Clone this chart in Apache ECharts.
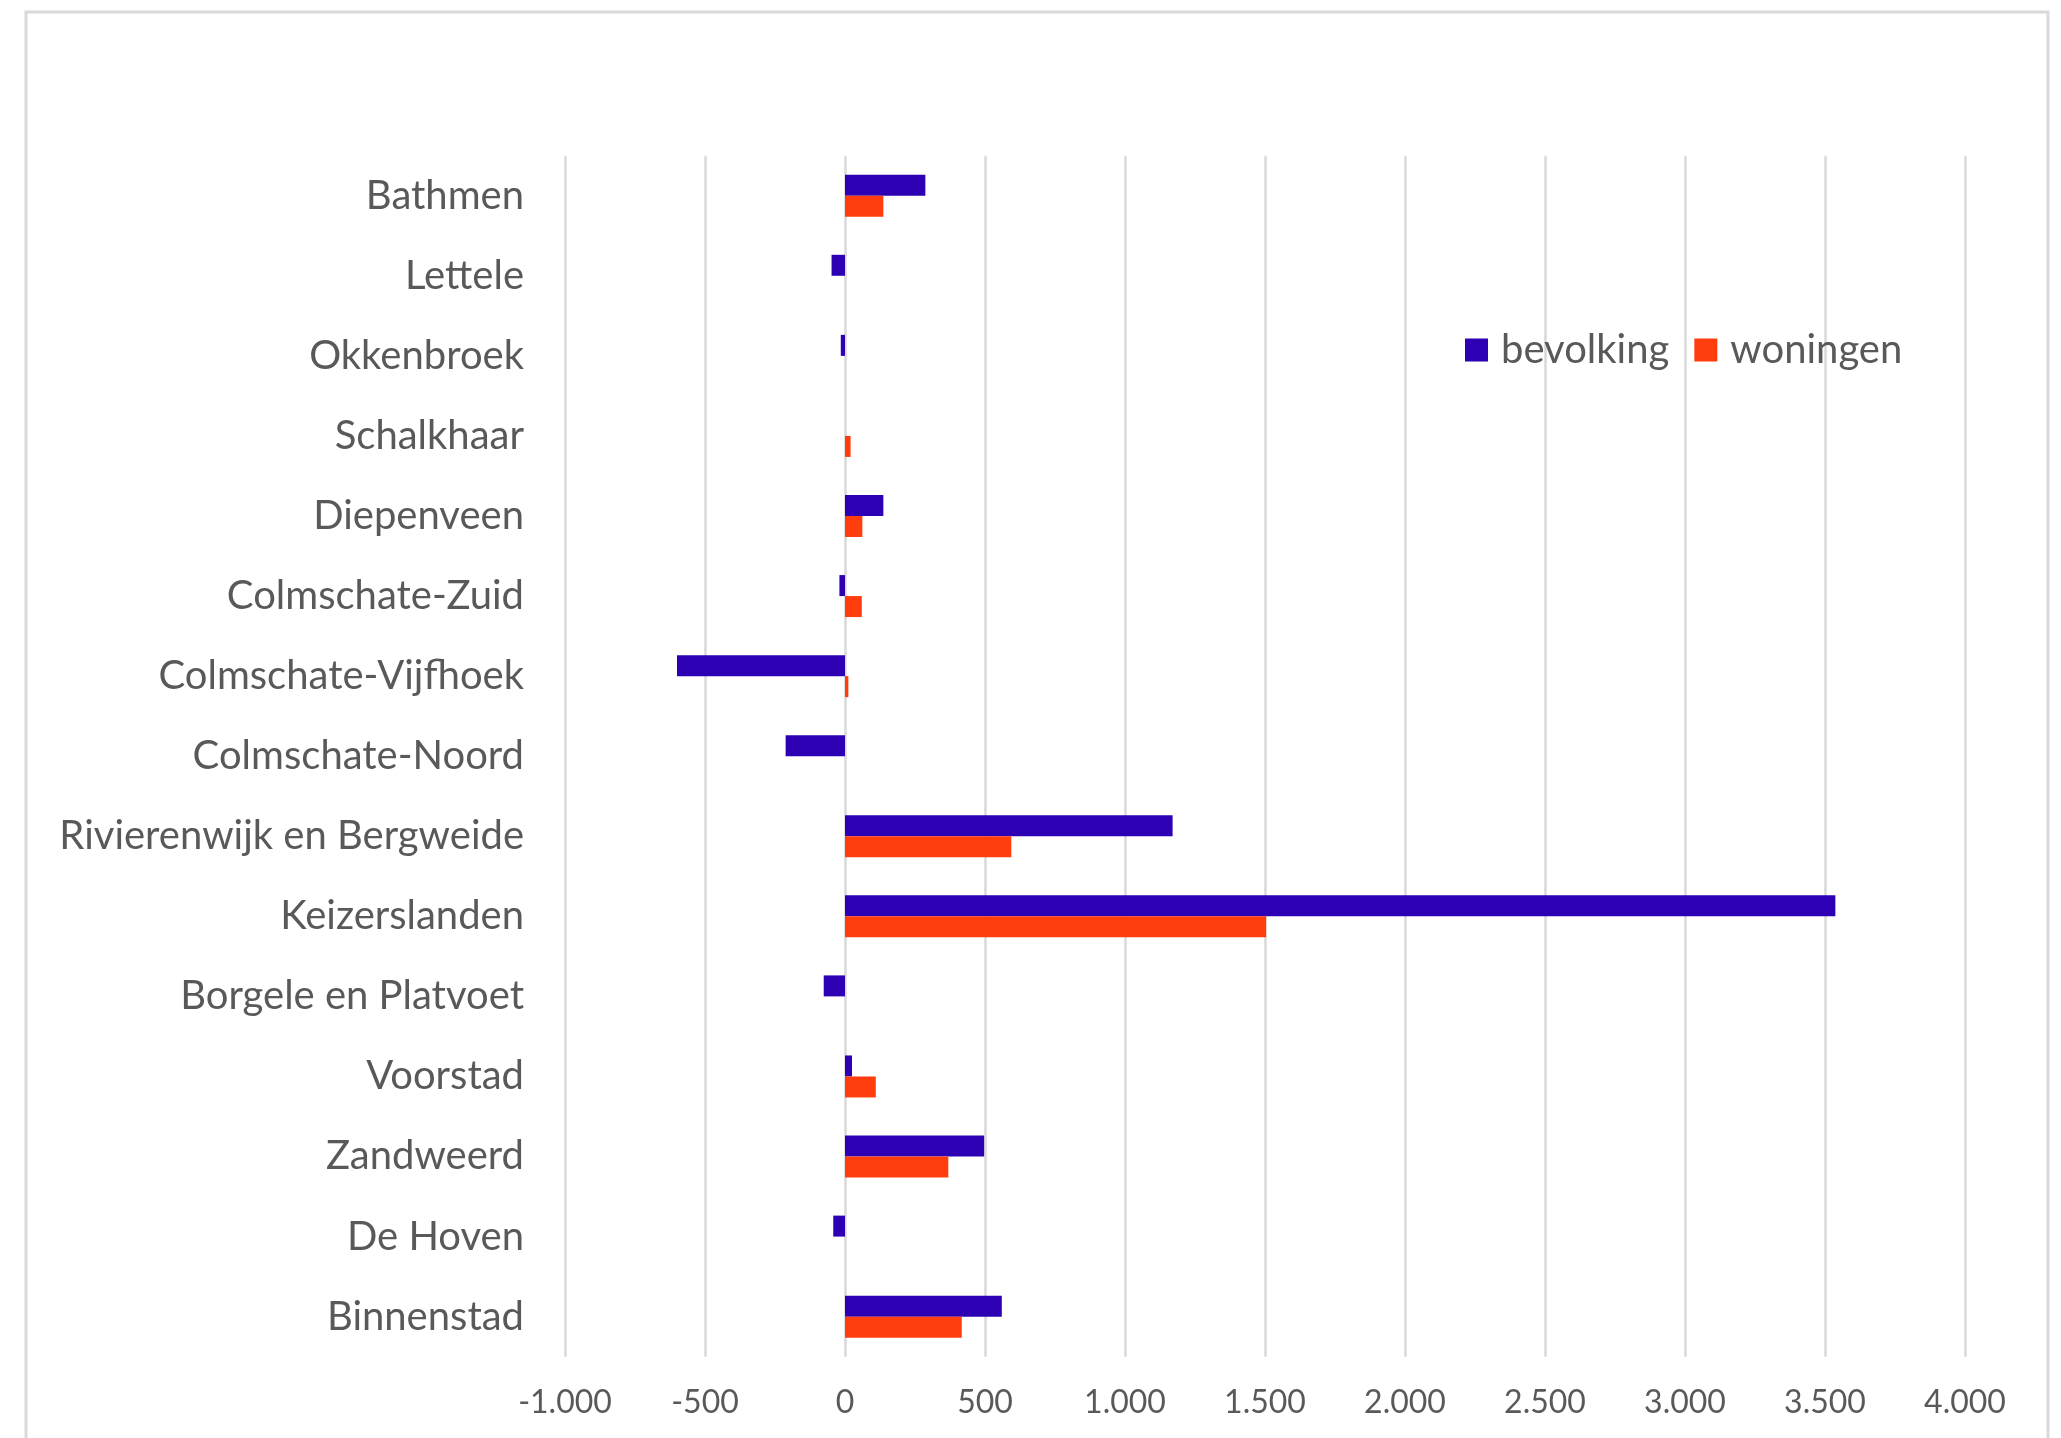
<!DOCTYPE html>
<html>
<head>
<meta charset="utf-8">
<script src="https://cdn.jsdelivr.net/npm/echarts@6/dist/echarts.min.js"></script>
<style>
html,body{margin:0;padding:0;background:#fff;}
#chart{width:2061px;height:1438px;}
</style>
</head>
<body>
<div id="chart"></div>
<script>
const categories = ['Bathmen','Lettele','Okkenbroek','Schalkhaar','Diepenveen','Colmschate-Zuid','Colmschate-Vijfhoek','Colmschate-Noord','Rivierenwijk en Bergweide','Keizerslanden','Borgele en Platvoet','Voorstad','Zandweerd','De Hoven','Binnenstad'];
const bevolking = [287, -48, -15, 0, 137, -20, -600, -212, 1170, 3537, -76, 25, 497, -42, 560];
const woningen = [137, 0, 0, 20, 62, 60, 12, 0, 594, 1504, 0, 110, 369, 0, 417];
const xTickLabels = ['-1.000','-500','0','500','1.000','1.500','2.000','2.500','3.000','3.500','4.000'];
const xMin = -1000, xMax = 4000, xInterval = 500;

const chart = echarts.init(document.getElementById('chart'));
const font = 'Lato';
chart.setOption({
  animation: false,
  backgroundColor: '#ffffff',
  graphic: [{
    type: 'rect',
    shape: {x: 26, y: 12, width: 2022, height: 1460},
    style: {fill: 'none', stroke: '#D9D9D9', lineWidth: 3},
    z: -1
  }],
  legend: {
    left: 1460,
    top: 325,
    itemWidth: 23,
    itemHeight: 23,
    itemGap: 25,
    icon: 'rect',
    textStyle: {fontFamily: font, fontSize: 40, color: '#595959', padding: [0,0,0,8], lineHeight: 40},
    data: ['bevolking','woningen']
  },
  grid: {left: 565, right: 96, top: 155.7, bottom: 81.3, containLabel: false},
  xAxis: {
    type: 'value',
    min: xMin, max: xMax, interval: xInterval,
    axisLine: {show: false},
    axisTick: {show: false},
    splitLine: {show: true, lineStyle: {color: '#D9D9D9', width: 2.5}},
    axisLabel: {
      fontFamily: font, fontSize: 32, color: '#595959', margin: 30,
      formatter: function (v) { return xTickLabels[Math.round((v - xMin) / xInterval)]; }
    }
  },
  yAxis: {
    type: 'category',
    inverse: true,
    data: categories,
    axisLine: {show: false},
    axisTick: {show: false},
    axisLabel: {fontFamily: font, fontSize: 40, color: '#595959', margin: 41}
  },
  series: [
    {name: 'bevolking', type: 'bar', data: bevolking, barWidth: 21, barGap: '0%',
     itemStyle: {color: '#2E00B3'}},
    {name: 'woningen', type: 'bar', data: woningen, barWidth: 21, barGap: '0%',
     itemStyle: {color: '#FF3D0D'}}
  ]
});
</script>
</body>
</html>
